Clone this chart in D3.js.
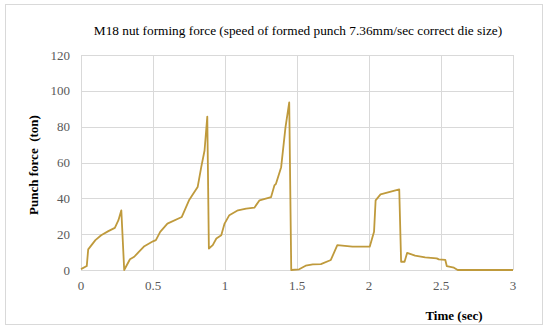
<!DOCTYPE html>
<html>
<head>
<meta charset="utf-8">
<script src="https://cdn.jsdelivr.net/npm/d3@7"></script>
<style>
  body { margin: 0; background: #fff; }
</style>
</head>
<body>
<div class="force-plot"></div>
<script>
// time (sec)
const time = [0, 0.04, 0.05, 0.1, 0.14, 0.19, 0.235, 0.26, 0.28, 0.30,
  0.34, 0.37, 0.40, 0.44, 0.5, 0.52, 0.55, 0.60, 0.70, 0.75, 0.81, 0.835, 0.858, 0.877,
  0.888, 0.915, 0.94, 0.974, 0.997, 1.03, 1.09, 1.147, 1.204, 1.24, 1.32, 1.343, 1.354, 1.39, 1.42, 1.446,
  1.46, 1.515, 1.56, 1.61, 1.666, 1.735, 1.78, 1.885, 2.005, 2.035, 2.046, 2.08, 2.21,
  2.223, 2.247, 2.265, 2.32, 2.39, 2.47, 2.485, 2.53, 2.54, 2.59, 2.616, 3];
// punch force (ton)
const force = [0.5, 2.2, 11.5, 16.7, 19.4, 21.7, 23.5, 27.8, 33.3, 0,
  6, 7.4, 10, 13.3, 16, 16.7, 21.3, 25.9, 29.6, 38.9, 46.3, 57.4, 66.7, 85.6,
  12, 13.9, 17.6, 19.4, 25.9, 30.6, 33.3, 34.3, 34.8, 38.9, 40.7, 47.2, 48.1, 57.4, 79.6, 93.5,
  0, 0.4, 2.4, 3.1, 3.3, 5.6, 13.9, 13, 13, 21.3, 38.9, 42.2, 45,
  4.6, 4.6, 9.6, 8, 7, 6.5, 5.9, 5.6, 2.2, 1.3, 0, 0];

const xTicks = [0, 0.5, 1, 1.5, 2, 2.5, 3];
const yTicks = [0, 20, 40, 60, 80, 100, 120];

const serif = "'Liberation Serif', 'Times New Roman', 'DejaVu Serif', serif";

const width = 550;
const height = 333;
const svg = d3
  .select(".force-plot")
  .append("svg")
  .attr("width", width)
  .attr("height", height)
  .attr("font-family", serif);

// outer frame
svg
  .append("rect")
  .attr("x", 5.5)
  .attr("y", 4.5)
  .attr("width", 537)
  .attr("height", 320)
  .attr("fill", "#fff")
  .attr("stroke", "#d9d9d9");

const x = d3.scaleLinear().domain([0, 3]).range([81, 513]);
const y = d3.scaleLinear().domain([0, 120]).range([270, 55]);

// grid
svg
  .selectAll("line.hgrid")
  .data(yTicks)
  .enter()
  .append("line")
  .attr("class", "hgrid")
  .attr("x1", x(0))
  .attr("x2", x(3))
  .attr("y1", (d) => Math.round(y(d)) + 0.5)
  .attr("y2", (d) => Math.round(y(d)) + 0.5)
  .attr("stroke", "#d9d9d9");

svg
  .selectAll("line.vgrid")
  .data(xTicks)
  .enter()
  .append("line")
  .attr("class", "vgrid")
  .attr("x1", (d) => Math.round(x(d)) + 0.5)
  .attr("x2", (d) => Math.round(x(d)) + 0.5)
  .attr("y1", y(0))
  .attr("y2", y(120))
  .attr("stroke", "#d9d9d9");

// tick labels
svg
  .selectAll("text.ytick")
  .data(yTicks)
  .enter()
  .append("text")
  .attr("class", "ytick")
  .attr("x", 70)
  .attr("y", (d) => y(d))
  .attr("dy", 4.5)
  .attr("text-anchor", "end")
  .attr("font-size", 13)
  .attr("fill", "#595959")
  .text((d) => d);

svg
  .selectAll("text.xtick")
  .data(xTicks)
  .enter()
  .append("text")
  .attr("class", "xtick")
  .attr("x", (d) => x(d))
  .attr("y", 290)
  .attr("text-anchor", "middle")
  .attr("font-size", 13)
  .attr("fill", "#595959")
  .text((d) => d);

// line
const points = time.map((t, i) => [t, force[i]]);
svg
  .append("path")
  .datum(points)
  .attr("fill", "none")
  .attr("stroke", "#bf9a3c")
  .attr("stroke-width", 1.8)
  .attr("stroke-linejoin", "round")
  .attr("d", d3.line().x((d) => x(d[0])).y((d) => y(d[1])));

// titles
svg
  .append("text")
  .attr("x", 298)
  .attr("y", 35)
  .attr("text-anchor", "middle")
  .attr("font-size", 13.3)
  .attr("fill", "#000")
  .text("M18 nut forming force (speed of formed punch 7.36mm/sec correct die size)");

svg
  .append("text")
  .attr("transform", "translate(38,165) rotate(-90)")
  .attr("text-anchor", "middle")
  .attr("font-size", 13)
  .attr("font-weight", "bold")
  .attr("xml:space", "preserve")
  .text("Punch force  (ton)");

svg
  .append("text")
  .attr("x", 454)
  .attr("y", 320)
  .attr("text-anchor", "middle")
  .attr("font-size", 13)
  .attr("font-weight", "bold")
  .text("Time (sec)");
</script>
</body>
</html>
